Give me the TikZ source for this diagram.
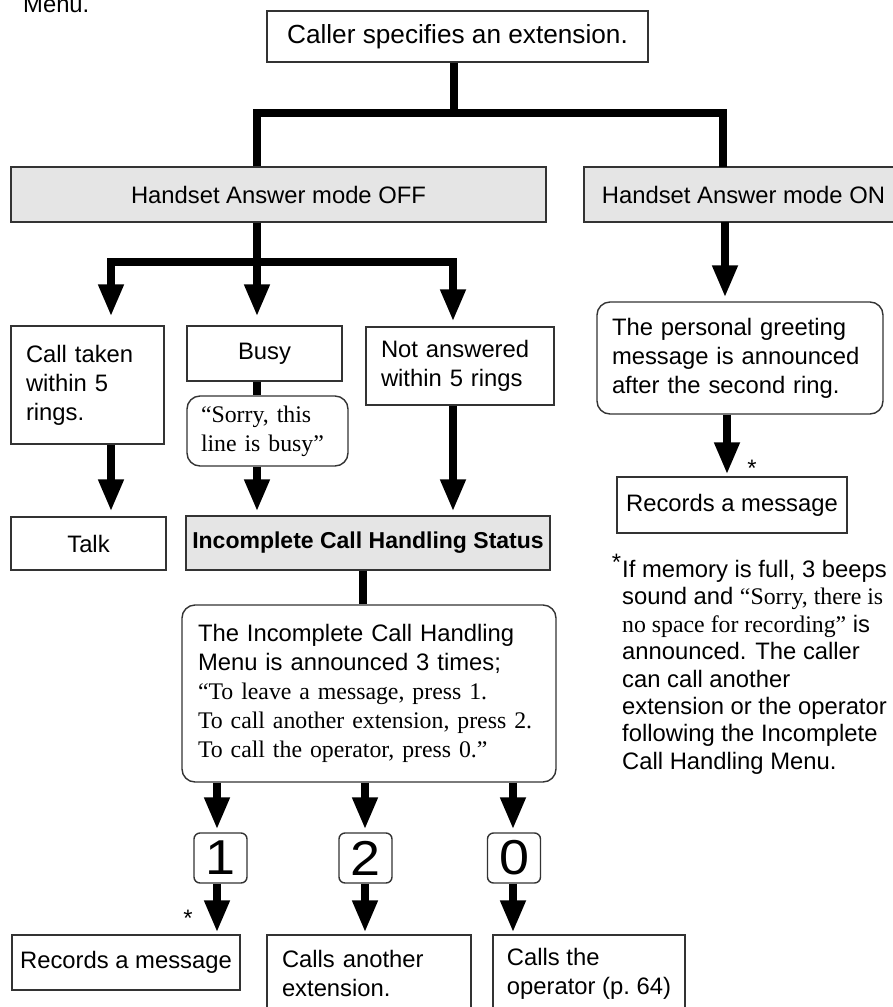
\documentclass[tikz,border=0pt]{standalone}
\usepackage{fontspec}
\usepackage{graphicx}
\setmainfont{Liberation Sans}
\newfontfamily\serifff{Liberation Serif}
\usetikzlibrary{arrows.meta}
\definecolor{gfill}{gray}{0.9}
\definecolor{bcol}{gray}{0.2}
\begin{document}
\begin{tikzpicture}[x=1pt,y=-1pt,
  every node/.style={font=\fontsize{23.8}{29}\selectfont},
  bx/.style={draw=bcol, line width=1.4pt, inner sep=0pt},
  rbx/.style={bx, rounded corners=13pt},
  kbox/.style={bx, rounded corners=6pt, minimum width=53pt, minimum height=50pt, font=\fontsize{49}{49}\selectfont},
  conn/.style={line width=7.5pt, black},
  arr/.style={conn, -{Triangle[length=32pt,width=24pt]}},
  lbox/.style={bx, align=left, inner xsep=15pt}
]
\useasboundingbox (0,0) rectangle (893,1007);
\clip (0,0) rectangle (893,1007);

% column coordinates
\coordinate (xA) at (111,0);
\coordinate (xB) at (257,0);
\coordinate (xC) at (453,0);
\coordinate (xD) at (725,0);
\coordinate (xE) at (727,0);
\coordinate (xM) at (363,0);
\coordinate (xk1) at (217,0);
\coordinate (xk2) at (365,0);
\coordinate (xk3) at (513,0);
\coordinate (xR) at (723,0);
\coordinate (j1) at (454,113);
\coordinate (j2) at (257,262);

% nodes
\node[anchor=base west, inner sep=0pt] (prev) at (23,12) {Menu.};
\node[bx, minimum width=381pt, minimum height=51pt, font=\fontsize{26.2}{30}\selectfont] (top) at (457.5,36.5) {Caller specifies an extension.};
\node[bx, fill=gfill, minimum width=535pt, minimum height=55pt] (off) at (278.5,194.5) {Handset Answer mode OFF};
\draw[bx, fill=gfill] (584,167) rectangle (930,222);
\node[inner sep=0pt, minimum width=319pt, minimum height=55pt] (on) at (743.5,194.5) {Handset Answer mode ON};

\node[lbox, text width=123pt, minimum height=118pt] (taken) at (87.5,385) {Call taken\\within 5\\rings.};
\node[bx, minimum width=155pt, minimum height=55pt] (busy) at (264.5,353.5) {Busy};
\node[rbx, align=left, inner xsep=14pt, text width=133pt, minimum height=70pt, font=\serifff\fontsize{23.8}{29}\selectfont] (sorry) at (267.5,431) {“Sorry, this\\line is busy”};
\node[lbox, text width=158pt, minimum height=78pt] (notans) at (460,366) {Not answered\\within 5 rings};

\node[rbx, align=left, inner xsep=15pt, text width=256pt, minimum height=112pt] (greet) at (740,358) {The personal greeting\\message is announced\\after the second ring.};
\node[bx, minimum width=230pt, minimum height=56pt] (rec1) at (732,505) {Records a message};

\node[bx, minimum width=155pt, minimum height=53pt] (talk) at (88.5,543.5) {Talk};
\node[bx, fill=gfill, minimum width=364pt, minimum height=54pt, font=\bfseries\fontsize{23}{29}\selectfont] (ichs) at (368,543) {Incomplete Call Handling Status};

\node[rbx, align=left, inner xsep=16pt, text width=342pt, minimum height=177pt] (mbox) at (369,693.5) {The Incomplete Call Handling\\Menu is announced 3 times;\\{\serifff “To leave a message, press 1.}\\{\serifff To call another extension, press 2.}\\{\serifff To call the operator, press 0.”}};

\node[kbox] (k1) at (220.5,858) {\scalebox{1.1}[1]{1}};
\node[kbox] (k2) at (365.5,858) {\scalebox{1.1}[1]{2}};
\node[kbox] (k0) at (514,858) {\scalebox{1.1}[1]{0}};

\node[bx, minimum width=228pt, minimum height=55pt] (rec2) at (126,962.5) {Records a message};
\node[lbox, text width=174pt, minimum height=77pt] (callext) at (369,973.5) {Calls another\\extension.};
\node[bx, align=left, minimum width=192pt, minimum height=77pt] (callop) at (589,973.5) {Calls the\\operator (p.~64)};

\node[anchor=base] (s1) at (752,476) {*};
\node[anchor=base] (s2) at (188,926) {*};

\node[anchor=north west, inner sep=0pt, align=left, font=\fontsize{23.8}{27.4}\selectfont] (note) at (622,560)
{\llap{\smash{\raisebox{0.3em}{*}}\hspace{1pt}}If memory is full, 3 beeps\\
sound and {\serifff “Sorry, there is}\\
{\serifff no space for recording”} is\\
announced. The caller\\
can call another\\
extension or the operator\\
following the Incomplete\\
Call Handling Menu.};

% connectors
\draw[conn] (top.south -| j1) -- (j1);
\draw[conn] (off.north -| xB) |- (j1) -| (on.north -| xR);
\draw[conn] (off.south -| j2) -- (j2);
\draw[arr, shorten >=9pt] (j2) -- (busy.north -| xB);
\draw[arr, shorten >=9pt] (j2) -| (taken.north -| xA);
\draw[arr, shorten >=5pt] (j2) -| (notans.north -| xC);

\draw[arr, shorten >=4pt] (on.south -| xD) -- (greet.north -| xD);
\draw[arr, shorten >=2pt] (greet.south -| xE) -- (rec1.north -| xE);

\draw[arr, shorten >=5pt] (taken.south -| xA) -- (talk.north -| xA);
\draw[conn] (busy.south -| xB) -- (sorry.north -| xB);
\draw[arr, shorten >=4pt] (sorry.south -| xB) -- (ichs.north -| xB);
\draw[arr, shorten >=4pt] (notans.south -| xC) -- (ichs.north -| xC);
\draw[conn] (ichs.south -| xM) -- (mbox.north -| xM);

\draw[arr, shorten >=3pt] (mbox.south -| xk1) -- (k1.north -| xk1);
\draw[arr, shorten >=3pt] (mbox.south -| xk2) -- (k2.north -| xk2);
\draw[arr, shorten >=3pt] (mbox.south -| xk3) -- (k0.north -| xk3);
\draw[arr, shorten >=2pt] (k1.south -| xk1) -- (rec2.north -| xk1);
\draw[arr, shorten >=2pt] (k2.south -| xk2) -- (callext.north -| xk2);
\draw[arr, shorten >=2pt] (k0.south -| xk3) -- (callop.north -| xk3);
\end{tikzpicture}
\end{document}
